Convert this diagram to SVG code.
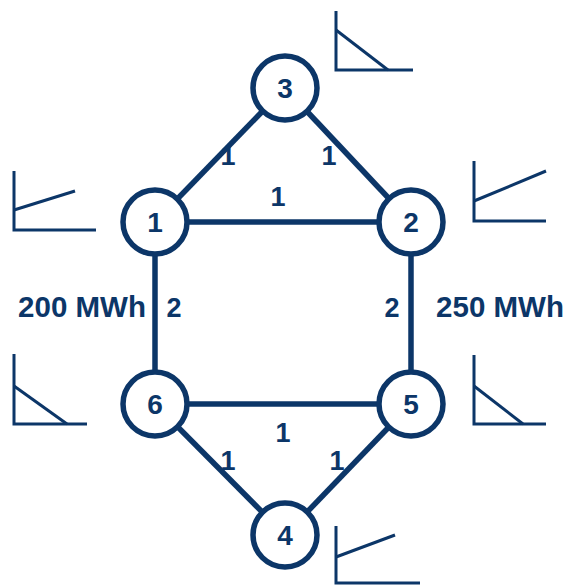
<svg xmlns="http://www.w3.org/2000/svg" width="565" height="585" viewBox="0 0 565 585">
<style>
.edge{stroke:#0c3668;stroke-width:5.5;fill:none}
.ax{stroke:#0c3668;stroke-width:3;fill:none}
.node{fill:#fff;stroke:#0c3668;stroke-width:5.5}
text{font-family:"Liberation Sans",Arial,sans-serif;font-weight:bold;fill:#0c3668;text-anchor:middle}
.nl{font-size:28px}
.el{font-size:27px}
.cap{font-size:29.5px}
</style>
<g id="connectors">
<line class="edge" x1="155" y1="222" x2="285" y2="88"/>
<line class="edge" x1="285" y1="88" x2="411" y2="222"/>
<line class="edge" x1="155" y1="222" x2="411" y2="222"/>
<line class="edge" x1="155" y1="222" x2="155" y2="404"/>
<line class="edge" x1="411" y1="222" x2="411" y2="404"/>
<line class="edge" x1="155" y1="404" x2="411" y2="404"/>
<line class="edge" x1="155" y1="404" x2="285" y2="535"/>
<line class="edge" x1="285" y1="535" x2="411" y2="404"/>
</g>
<g id="edge-labels">
<text class="el" x="228" y="165">1</text>
<text class="el" x="329" y="165">1</text>
<text class="el" x="278" y="206">1</text>
<text class="el" x="174" y="317">2</text>
<text class="el" x="392" y="317">2</text>
<text class="el" x="283" y="442">1</text>
<text class="el" x="228" y="470">1</text>
<text class="el" x="337" y="470">1</text>
<text class="cap" x="82" y="317">200 MWh</text>
<text class="cap" x="500" y="317">250 MWh</text>
</g>
<g id="node3"><circle class="node" cx="285" cy="88" r="32"/><text class="nl" x="285" y="98">3</text></g>
<g id="node1"><circle class="node" cx="155" cy="222" r="32"/><text class="nl" x="155" y="232">1</text></g>
<g id="node2"><circle class="node" cx="411" cy="222" r="32"/><text class="nl" x="411" y="232">2</text></g>
<g id="node6"><circle class="node" cx="155" cy="404" r="32"/><text class="nl" x="155" y="414">6</text></g>
<g id="node5"><circle class="node" cx="411" cy="404" r="32"/><text class="nl" x="411" y="414">5</text></g>
<g id="node4"><circle class="node" cx="285" cy="535" r="32"/><text class="nl" x="285" y="545">4</text></g>
<g id="chart3"><path class="ax" d="M336 11 V70 H413"/><line class="ax" x1="336" y1="30" x2="388" y2="70"/></g>
<g id="chart1"><path class="ax" d="M14 171 V230 H96"/><line class="ax" x1="14" y1="210" x2="75" y2="191"/></g>
<g id="chart6"><path class="ax" d="M14 354 V424 H87"/><line class="ax" x1="14" y1="386" x2="67" y2="424"/></g>
<g id="chart2"><path class="ax" d="M474 161 V221 H546"/><line class="ax" x1="474" y1="201" x2="546" y2="171"/></g>
<g id="chart5"><path class="ax" d="M474 355 V424 H546"/><line class="ax" x1="474" y1="386" x2="523" y2="424"/></g>
<g id="chart4"><path class="ax" d="M336 526 V583 H420"/><line class="ax" x1="336" y1="557" x2="395" y2="535"/></g>
</svg>
